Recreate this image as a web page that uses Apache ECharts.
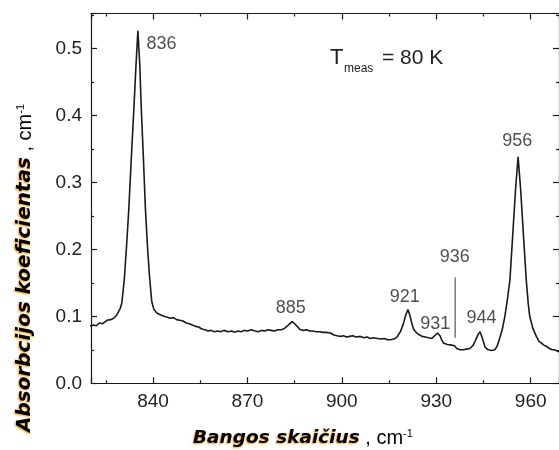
<!DOCTYPE html>
<html>
<head>
<meta charset="utf-8">
<script src="https://cdn.jsdelivr.net/npm/echarts@6/dist/echarts.min.js"></script>
<style>
  html, body { margin: 0; padding: 0; background: #fff; }
  #chart { width: 559px; height: 450px; }
</style>
</head>
<body>
<div id="chart"></div>
<script>
// spectrum (cm^-1 / absorption coefficient)
var wavenumber = [
  820.0, 821.0, 822.0, 823.0, 824.0, 825.4, 826.5, 827.5, 828.5, 829.6,
  830.1, 830.9, 831.6, 832.3, 833.1, 833.9, 834.6, 835.2, 835.8, 836.3,
  837.0, 837.6, 838.3, 838.9, 839.6, 840.3, 841.2, 842.5, 843.5, 844.3,
  845.5, 846.5, 847.5, 848.5, 849.5, 850.6, 851.5, 852.5, 853.5, 854.5,
  855.5, 856.5, 857.5, 858.5, 859.5, 860.5, 861.5, 862.5, 863.9, 865.0,
  866.0, 867.0, 868.0, 869.0, 870.0, 871.2, 872.5, 873.5, 874.5, 875.5,
  876.5, 877.5, 878.5, 879.7, 880.8, 881.8, 882.8, 883.5, 884.2, 885.0,
  885.8, 886.8, 887.8, 888.8, 889.8, 890.8, 891.8, 893.0, 894.0, 895.0,
  896.4, 897.5, 898.5, 899.6, 900.5, 901.5, 902.5, 903.5, 904.5, 905.9,
  907.0, 908.0, 909.0, 910.0, 911.3, 912.5, 913.5, 914.5, 915.5, 916.5,
  917.5, 918.6, 919.5, 920.3, 921.0, 921.7, 922.3, 922.9, 923.8, 924.7,
  925.5, 926.5, 927.5, 928.6, 929.5, 930.4, 931.2, 931.8, 932.3, 933.5,
  934.9, 935.8, 936.5, 937.6, 938.6, 939.6, 940.7, 941.6, 942.5, 943.3,
  943.9, 944.6, 945.5, 946.5, 947.6, 948.6, 949.4, 950.2, 951.0, 951.8,
  952.6, 953.4, 954.4, 955.2, 956.0, 956.8, 957.6, 958.6, 959.2, 959.7,
  960.7, 961.8, 962.6, 963.4, 964.2, 965.0, 966.0, 966.8, 967.6, 968.5, 969.0
];
var absorbance = [
  0.085, 0.087, 0.086, 0.090, 0.089, 0.094, 0.095, 0.097, 0.102, 0.112,
  0.120, 0.156, 0.205, 0.259, 0.335, 0.408, 0.475, 0.526, 0.475, 0.408,
  0.330, 0.259, 0.200, 0.159, 0.122, 0.110, 0.105, 0.102, 0.100, 0.099,
  0.097, 0.098, 0.095, 0.094, 0.093, 0.090, 0.089, 0.087, 0.085, 0.084,
  0.081, 0.080, 0.078, 0.079, 0.077, 0.078, 0.077, 0.079, 0.077, 0.078,
  0.076, 0.078, 0.077, 0.079, 0.078, 0.080, 0.078, 0.077, 0.079, 0.078,
  0.080, 0.079, 0.078, 0.080, 0.080, 0.082, 0.086, 0.089, 0.092, 0.089,
  0.085, 0.080, 0.079, 0.080, 0.078, 0.078, 0.077, 0.077, 0.076, 0.076,
  0.075, 0.072, 0.071, 0.070, 0.071, 0.069, 0.070, 0.071, 0.069, 0.070,
  0.068, 0.069, 0.067, 0.068, 0.067, 0.066, 0.067, 0.065, 0.065, 0.066,
  0.069, 0.077, 0.088, 0.102, 0.110, 0.100, 0.088, 0.080, 0.075, 0.072,
  0.070, 0.069, 0.068, 0.067, 0.071, 0.075, 0.071, 0.064, 0.060, 0.058,
  0.057, 0.056, 0.052, 0.050, 0.050, 0.051, 0.052, 0.056, 0.064, 0.073,
  0.077, 0.068, 0.054, 0.050, 0.049, 0.050, 0.056, 0.068, 0.081, 0.100,
  0.125, 0.154, 0.229, 0.290, 0.338, 0.290, 0.229, 0.154, 0.120, 0.100,
  0.082, 0.070, 0.063, 0.060, 0.057, 0.055, 0.052, 0.050, 0.050, 0.048, 0.047
];

// peak annotations
var peakNames = ['836', '885', '921', '931', '936', '944', '956'];
var peakLabelX = [842.7, 883.8, 920.0, 929.7, 935.9, 944.4, 955.7];
var peakLabelY = [0.506, 0.112, 0.129, 0.089, 0.189, 0.097, 0.362];
var markerX = [936, 936];
var markerY = [0.068, 0.158];

var X_MIN = 820.3, X_MAX = 969;
var Y_MIN = 0, Y_MAX = 0.552;
var ink = '#1a1a1a';

// ticks: let echarts pick the nice step (30 on x, 0.1 on y), half-step minor ticks
function axisOf(pos, min, max, withLabel, fmt) {
  return {
    type: 'value', position: pos, min: min, max: max, splitNumber: 5,
    axisLine: { show: true, onZero: false, lineStyle: { color: ink, width: 1.2 } },
    axisTick: { show: true, inside: true, length: 6, lineStyle: { color: ink, width: 1.2 } },
    minorTick: { show: true, splitNumber: 2, length: 3, lineStyle: { color: ink, width: 1.2 } },
    axisLabel: withLabel ? {
      show: true, margin: 9, showMinLabel: pos === 'left', showMaxLabel: false,
      fontFamily: 'Liberation Sans', fontSize: 19, color: '#222', formatter: fmt
    } : { show: false },
    splitLine: { show: false },
    minorSplitLine: { show: false }
  };
}

var myChart = echarts.init(document.getElementById('chart'));

var titleStyle = {
  fontFamily: 'DejaVu Sans', fontStyle: 'italic', fontWeight: 'bold',
  color: '#1c2650',
  textShadowColor: '#f0a020', textShadowBlur: 2,
  textShadowOffsetX: -1, textShadowOffsetY: 1
};
var unitStyle = { fontFamily: 'Liberation Sans', fontSize: 20, color: '#333' };
var supStyle = { fontFamily: 'Liberation Sans', fontSize: 11, color: '#333', verticalAlign: 'top' };

var option = {
  animation: false,
  backgroundColor: '#fff',
  grid: { left: 91, top: 13.5, right: -2.8, bottom: 66.7, containLabel: false },
  xAxis: [
    axisOf('bottom', X_MIN, X_MAX, true, function (v) { return String(Math.round(v)); }),
    axisOf('top', X_MIN, X_MAX, false)
  ],
  yAxis: [
    axisOf('left', Y_MIN, Y_MAX, true, function (v) { return v.toFixed(1); }),
    axisOf('right', Y_MIN, Y_MAX, false)
  ],
  series: [
    {
      type: 'line',
      data: wavenumber.map(function (w, i) { return [w, absorbance[i]]; }),
      showSymbol: false,
      lineStyle: { color: ink, width: 1.6 },
      z: 3
    },
    {
      type: 'line',
      data: markerX.map(function (w, i) { return [w, markerY[i]]; }),
      showSymbol: false,
      lineStyle: { color: '#333', width: 1 }
    },
    {
      type: 'scatter',
      symbolSize: 1,
      itemStyle: { color: 'rgba(0,0,0,0)' },
      data: peakNames.map(function (n, i) { return { name: n, value: [peakLabelX[i], peakLabelY[i]] }; }),
      label: {
        show: true, position: 'inside', formatter: '{b}',
        fontFamily: 'Liberation Sans', fontSize: 18, color: '#222'
      }
    }
  ],
  graphic: [
    { type: 'text', left: 330, top: 47, style: { text: 'T', font: '22px "Liberation Sans"', fill: '#222' } },
    { type: 'text', left: 344, top: 63, style: { text: 'meas', font: '12px "Liberation Sans"', fill: '#222' } },
    { type: 'text', left: 382, top: 48, style: { text: '= 80 K', font: '21px "Liberation Sans"', fill: '#222' } },
    {
      type: 'text', x: 25, y: 268, rotation: Math.PI / 2,
      style: {
        text: '{a|Absorbcijos koeficientas}{b| , cm}{c|-1}',
        align: 'center', verticalAlign: 'middle',
        rich: {
          a: Object.assign({ fontSize: 20 }, titleStyle),
          b: unitStyle,
          c: supStyle
        }
      }
    },
    {
      type: 'text', x: 193, y: 438,
      style: {
        text: '{a|Bangos skaičius}{b| , cm}{c|-1}',
        align: 'left', verticalAlign: 'middle',
        rich: {
          a: Object.assign({ fontSize: 18.5 }, titleStyle),
          b: unitStyle,
          c: supStyle
        }
      }
    }
  ]
};

myChart.setOption(option);
</script>
</body>
</html>
